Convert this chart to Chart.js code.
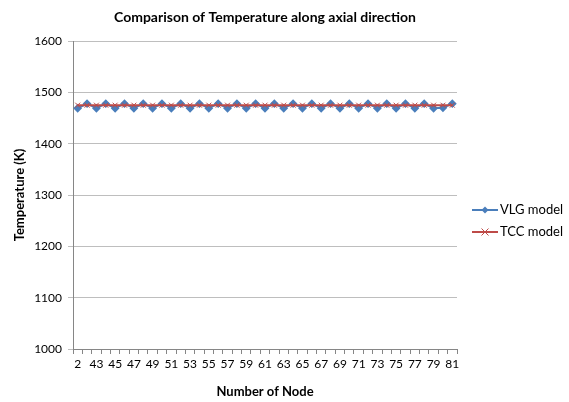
<!DOCTYPE html>
<html>
<head>
<meta charset="utf-8">
<script src="https://cdn.jsdelivr.net/npm/chart.js@4/dist/chart.umd.min.js"></script>
<style>
  html, body { margin: 0; padding: 0; background: #fff; }
  #box { width: 569px; height: 402px; }
</style>
</head>
<body>
<div id="box"><canvas id="myChart"></canvas></div>
<script>
// node numbers along the axis (2, then 42..81)
const nodes = ["2"];
for (let n = 42; n <= 81; n++) nodes.push(String(n));

const vlgTemp = [1469, 1478, 1469, 1478, 1469, 1478, 1469, 1478, 1469, 1478,
    1469, 1478, 1469, 1478, 1469, 1478, 1469, 1478, 1469, 1478,
    1469, 1478, 1469, 1478, 1469, 1478, 1469, 1478, 1469, 1478,
    1469, 1478, 1469, 1478, 1469, 1478, 1469, 1478, 1469, 1470, 1478];
const tccTemp = [1475, 1475, 1475, 1475, 1475, 1475, 1475, 1475, 1475, 1475,
    1475, 1475, 1475, 1475, 1475, 1475, 1475, 1475, 1475, 1475,
    1475, 1475, 1475, 1475, 1475, 1475, 1475, 1475, 1475, 1475,
    1475, 1475, 1475, 1475, 1475, 1475, 1475, 1475, 1475, 1475, 1475];

const seriesNames = ["VLG model", "TCC model"];
const chartTitle = "Comparison of Temperature along axial direction";

const blue = "#4A7EBB", red = "#BE4B48";
const fontName = "Lato, 'Open Sans', sans-serif";

// title and legend drawn by hand, Excel style
const excelDeco = {
    id: "excelDeco",
    afterDraw(chart) {
        const ctx = chart.ctx, area = chart.chartArea;
        ctx.save();
        ctx.fillStyle = "#000";
        ctx.font = "bold 14px " + fontName;
        ctx.textAlign = "center";
        ctx.textBaseline = "middle";
        ctx.fillText(chartTitle, (area.left + area.right) / 2, 17);

        const items = [
            { name: seriesNames[0], color: blue, style: "diamond" },
            { name: seriesNames[1], color: red, style: "cross" }
        ];
        ctx.font = "13px " + fontName;
        ctx.textAlign = "left";
        items.forEach((it, i) => {
            const y = 210 + i * 22, x0 = 472, x1 = 498, xm = (x0 + x1) / 2;
            ctx.strokeStyle = it.color;
            ctx.lineWidth = 2;
            ctx.beginPath();
            ctx.moveTo(x0, y);
            ctx.lineTo(x1, y);
            ctx.stroke();
            if (it.style === "diamond") {
                ctx.fillStyle = it.color;
                ctx.beginPath();
                ctx.moveTo(xm, y - 3.5);
                ctx.lineTo(xm + 3.5, y);
                ctx.lineTo(xm, y + 3.5);
                ctx.lineTo(xm - 3.5, y);
                ctx.closePath();
                ctx.fill();
            } else {
                ctx.lineWidth = 1;
                ctx.beginPath();
                ctx.moveTo(xm - 3.5, y - 3.5);
                ctx.lineTo(xm + 3.5, y + 3.5);
                ctx.moveTo(xm + 3.5, y - 3.5);
                ctx.lineTo(xm - 3.5, y + 3.5);
                ctx.stroke();
            }
            ctx.fillStyle = "#000";
            ctx.fillText(it.name, x1 + 2, y);
        });
        ctx.restore();
    }
};

new Chart(document.getElementById("myChart"), {
    type: "line",
    data: {
        labels: nodes,
        datasets: [{
            label: seriesNames[0],
            data: vlgTemp,
            order: 2,
            borderColor: blue,
            backgroundColor: blue,
            borderWidth: 2,
            pointStyle: "rectRot",
            pointRadius: 3,
            pointHoverRadius: 3,
            tension: 0
        }, {
            label: seriesNames[1],
            data: tccTemp,
            order: 1,
            borderColor: red,
            backgroundColor: red,
            borderWidth: 2,
            pointStyle: "crossRot",
            pointRadius: 3.5,
            pointBorderWidth: 1,
            tension: 0
        }]
    },
    options: {
        responsive: true,
        maintainAspectRatio: false,
        animation: false,
        layout: { padding: { top: 41, right: 112, left: 12, bottom: 0 } },
        plugins: {
            legend: { display: false },
            title: { display: false },
            tooltip: { enabled: false }
        },
        scales: {
            x: {
                offset: true,
                grid: {
                    offset: true,
                    drawOnChartArea: false,
                    drawTicks: true,
                    tickLength: 5,
                    color: "#868686"
                },
                border: { color: "#868686" },
                ticks: {
                    autoSkip: false,
                    maxRotation: 0,
                    color: "#000",
                    font: { family: fontName, size: 12 },
                    callback: function (val, idx) {
                        return idx % 2 === 0 ? this.getLabelForValue(val) : "";
                    }
                },
                title: {
                    display: true,
                    text: "Number of Node",
                    color: "#000",
                    font: { family: fontName, size: 13, weight: "bold" },
                    padding: { top: 4, bottom: 2 }
                },
                afterFit(scale) { scale.height = 53; }
            },
            y: {
                min: 1000,
                max: 1600,
                ticks: {
                    stepSize: 100,
                    color: "#000",
                    font: { family: fontName, size: 12 },
                    padding: 6,
                    callback: (v) => String(v)
                },
                grid: {
                    color: "#BEBEBE",
                    tickLength: 5
                },
                border: { color: "#868686" },
                title: {
                    display: true,
                    text: "Temperature (K)",
                    color: "#000",
                    font: { family: fontName, size: 13, weight: "bold" },
                    padding: { top: 0, bottom: 2 }
                },
                afterFit(scale) { scale.width = 61; }
            }
        }
    },
    plugins: [excelDeco]
});
</script>
</body>
</html>
